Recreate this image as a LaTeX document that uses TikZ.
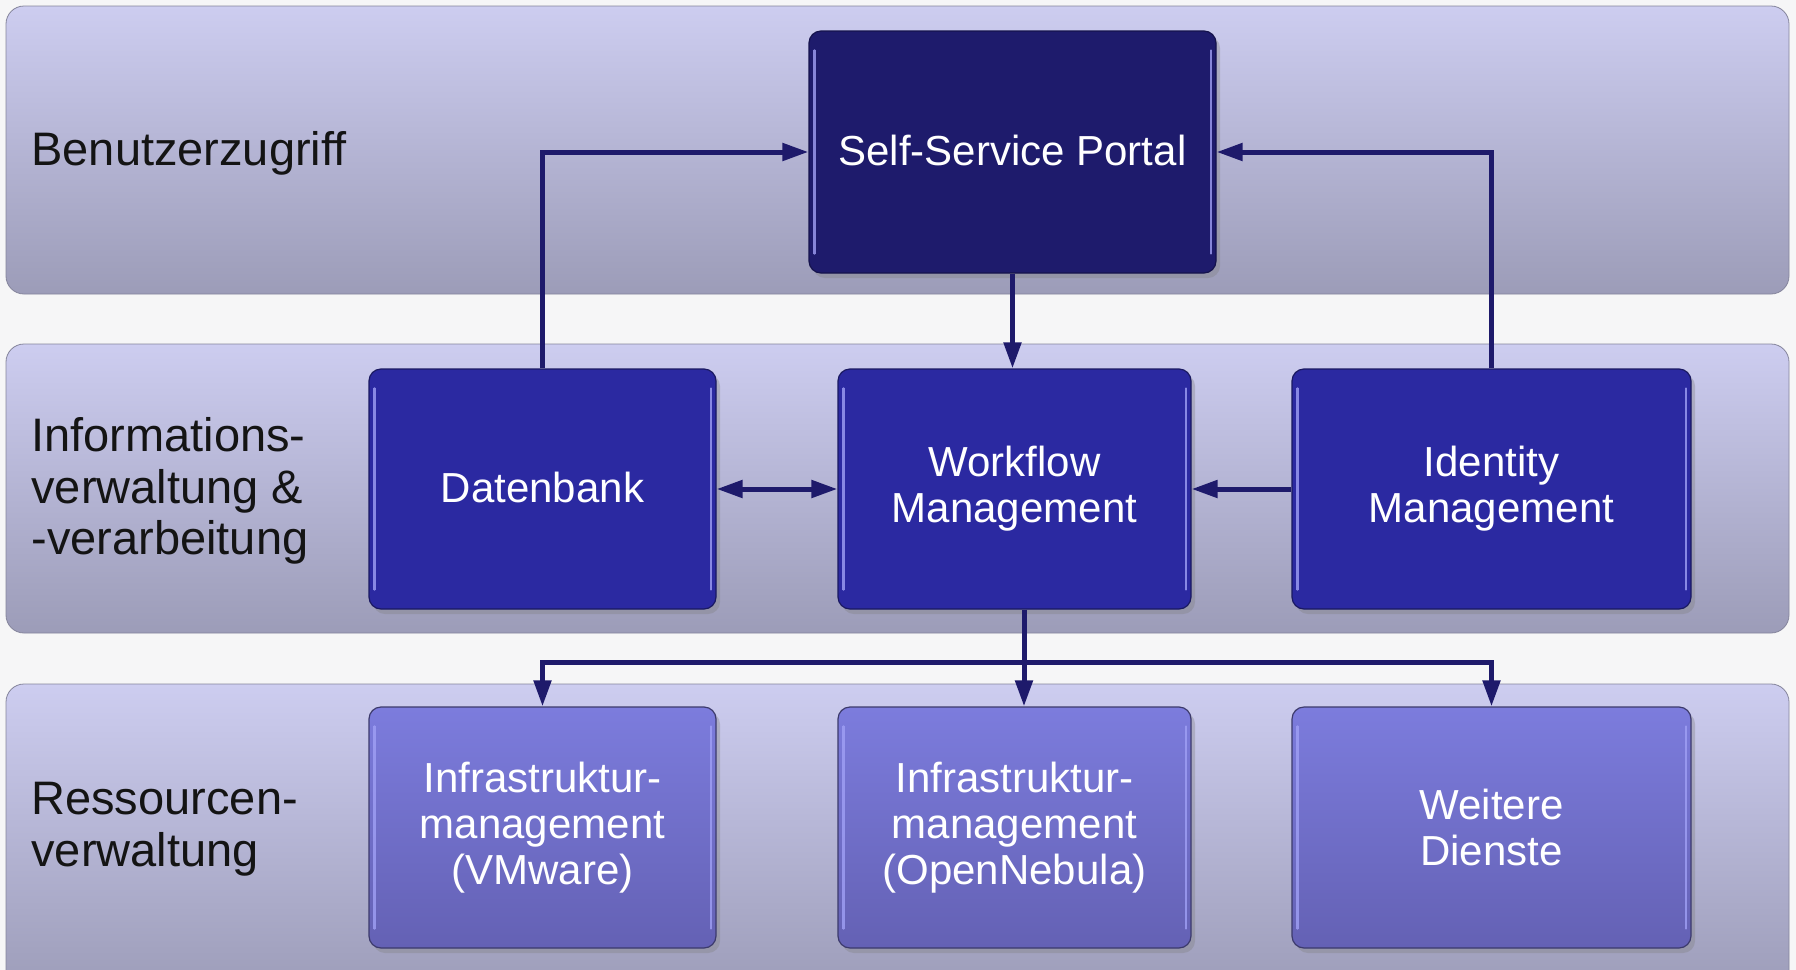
\documentclass[tikz,border=0pt]{standalone}
\usepackage{fontspec}
\setmainfont{Liberation Sans}
\usetikzlibrary{arrows.meta,shadows,calc}

\definecolor{bg}{RGB}{246,246,247}
\definecolor{bandtop}{RGB}{205,205,240}
\definecolor{bandbot}{RGB}{156,156,184}
\definecolor{navy}{RGB}{30,27,108}
\definecolor{midblue}{RGB}{43,41,161}
\definecolor{lighttop}{RGB}{124,124,221}
\definecolor{lightbot}{RGB}{100,97,180}
\definecolor{arrowc}{RGB}{30,26,107}
\definecolor{labelc}{RGB}{20,20,20}
\definecolor{bevelc}{RGB}{160,160,245}

\begin{document}
\begin{tikzpicture}[x=0.5pt,y=-0.5pt,
  bandsty/.style={rounded corners=9pt, top color=bandtop, bottom color=bandbot,
    draw=bandbot!85!black, line width=0.4pt, inner sep=0pt},
  lab/.style={anchor=west, align=left, text=labelc, inner sep=0pt,
    font=\fontsize{23.5}{25.75}\selectfont},
  boxbase/.style={rounded corners=6pt, align=center, text=white, inner sep=0pt,
    font=\fontsize{21}{23}\selectfont, line width=0.6pt,
    drop shadow={shadow xshift=2pt, shadow yshift=-2.5pt, opacity=0.35}},
  boxtop/.style={boxbase, fill=navy, draw=navy!70!black},
  boxmid/.style={boxbase, fill=midblue, draw=midblue!60!black},
  boxlow/.style={boxbase, top color=lighttop, bottom color=lightbot, draw=lightbot!60!black},
  bevelline/.style={line width=1.1pt, bevelc, opacity=0.8, line cap=round},
  conn/.style={draw=arrowc, line width=2.5pt},
  arr/.style={conn, -{Triangle[length=13pt,width=8.5pt]}},
  arrb/.style={conn, {Triangle[length=13pt,width=8.5pt]}-{Triangle[length=13pt,width=8.5pt]}}
]
\useasboundingbox (0,0) rectangle (1796,970);
\fill[bg] (0,0) rectangle (1796,970);
\clip (0,0) rectangle (1796,970);

% bands
\node[bandsty, minimum width=891.5pt, minimum height=144pt] (band1) at (897.5,150) {};
\node[bandsty, minimum width=891.5pt, minimum height=144.5pt] (band2) at (897.5,488.5) {};
\node[bandsty, minimum width=891.5pt, minimum height=155pt] (band3) at (897.5,839) {};

% band labels
\node[lab] (l1) at (31,153) {Benutzerzugriff};
\node[lab] (l2) at (31,491) {Informations-\\verwaltung \&\\-verarbeitung};
\node[lab] (l3) at (31,829) {Ressourcen-\\verwaltung};

% boxes
\node[boxtop, minimum width=203.5pt, minimum height=121pt] (ssp) at (1012.5,152) {\raisebox{2pt}{Self-Service Portal}};

\node[boxmid, minimum width=173.5pt, minimum height=120pt] (db) at (542.5,489) {\raisebox{1.5pt}{Datenbank}};
\node[boxmid, minimum width=176.5pt, minimum height=120pt] (wf) at (1014.5,489) {Workflow\\Management};
\node[boxmid, minimum width=199.5pt, minimum height=120pt] (idm) at (1491.5,489) {Identity\\Management};

\node[boxlow, minimum width=173.5pt, minimum height=120.5pt] (inf1) at (542.5,827.5) {Infrastruktur-\\management\\(VMware)};
\node[boxlow, minimum width=176.5pt, minimum height=120.5pt] (inf2) at (1014.5,827.5) {Infrastruktur-\\management\\(OpenNebula)};
\node[boxlow, minimum width=199.5pt, minimum height=120.5pt] (inf3) at (1491.5,827.5) {Weitere\\Dienste};

% bevel highlights
\foreach \n in {ssp,db,wf,idm,inf1,inf2,inf3}{
  \draw[bevelline] ($(\n.north west)+(6,20)$) -- ($(\n.south west)+(6,-20)$);
  \draw[bevelline] ($(\n.north east)+(-6,20)$) -- ($(\n.south east)+(-6,-20)$);
}

% connectors
\draw[arr] (db.north) |- (ssp.west);
\draw[arr] (idm.north) |- (ssp.east);
\draw[arr] (ssp.south) -- (ssp.south |- wf.north);
\draw[arrb] (db.east) -- (wf.west);
\draw[arr] (idm.west) -- (wf.east);

\coordinate (split) at (1024,662);
\draw[conn] (wf.south -| split) -- (split);
\draw[arr] (split) -| (inf1.north);
\draw[arr] (split) -| (inf3.north);
\draw[arr] (split) -- (split |- inf2.north);
\end{tikzpicture}
\end{document}
